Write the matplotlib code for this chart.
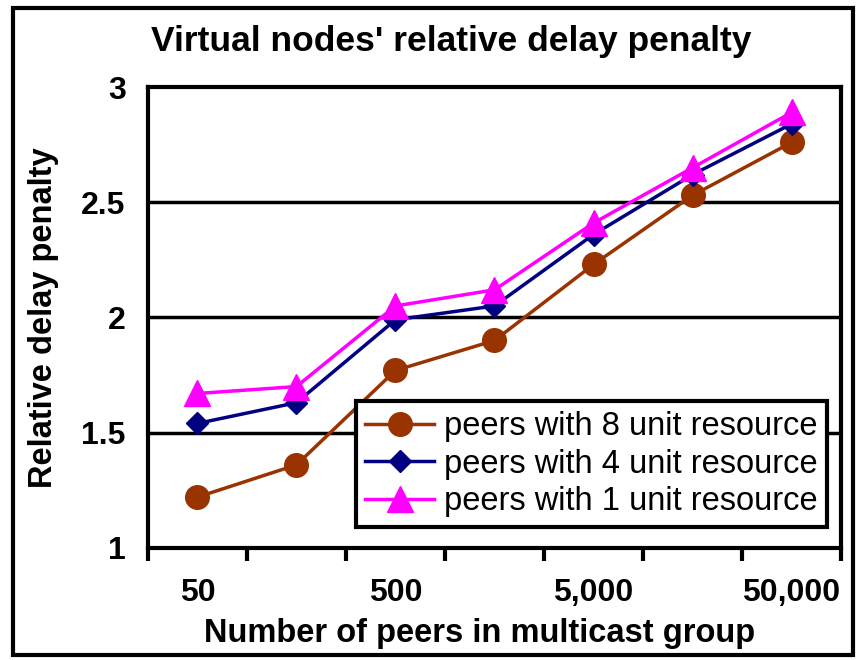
import matplotlib.pyplot as plt
from matplotlib.patches import Rectangle

# Datos
posiciones = [1, 2, 3, 4, 5, 6, 7]
etiquetas_x = ['50', '500', '5,000', '50,000']
posiciones_etiquetas = [1, 3, 5, 7]
recurso_8 = [1.22, 1.36, 1.77, 1.90, 2.23, 2.53, 2.76]
recurso_4 = [1.54, 1.63, 1.99, 2.05, 2.36, 2.62, 2.84]
recurso_1 = [1.67, 1.70, 2.05, 2.12, 2.41, 2.65, 2.89]

plt.rcParams['font.family'] = ['Liberation Sans', 'DejaVu Sans']

fig = plt.figure(figsize=(8.6, 6.6), dpi=100)
ax = fig.add_axes([0.172, 0.170, 0.806, 0.698])

ax.plot(posiciones, recurso_8, color='#993300', lw=2.5, marker='o',
        ms=17, label='peers with 8 unit resource')
ax.plot(posiciones, recurso_4, color='#000080', lw=2.5, marker='D',
        ms=11, label='peers with 4 unit resource')
ax.plot(posiciones, recurso_1, color='#FF00FF', lw=2.5, marker='^',
        ms=19, label='peers with 1 unit resource')

ax.set_xlim(0.5, 7.5)
ax.set_ylim(1, 3)
ax.set_yticks([1, 1.5, 2, 2.5, 3])
ax.set_yticklabels(['1', '1.5', '2', '2.5', '3'], fontsize=23,
                   fontweight='bold')
ax.tick_params(axis='y', length=0, pad=16)

# Marcas del eje x entre categorías, etiquetas en las categorías
ax.set_xticks([0.5 + i for i in range(8)])
ax.set_xticklabels([])
ax.tick_params(axis='x', which='major', length=9, width=3, direction='out')
ax.set_xticks(posiciones_etiquetas, minor=True)
ax.set_xticklabels(etiquetas_x, minor=True, fontsize=23, fontweight='bold')
ax.tick_params(axis='x', which='minor', length=0, pad=22)

for y in [1.5, 2, 2.5]:
    ax.axhline(y, color='black', lw=2.5, zorder=0)

for lado in ['left', 'bottom', 'top', 'right']:
    ax.spines[lado].set_linewidth(3)
    ax.spines[lado].set_color('black')

ax.set_xlabel('Number of peers in multicast group', fontsize=23.5,
              fontweight='bold')
ax.xaxis.set_label_coords(0.479, -0.152)
ax.set_ylabel('Relative delay penalty', fontsize=23.5, fontweight='bold',
              labelpad=16)
fig.text(0.525, 0.937, "Virtual nodes' relative delay penalty",
         fontsize=25.5, fontweight='bold', ha='center', va='center')

leyenda = ax.legend(loc='lower right', bbox_to_anchor=(0.98, 0.045),
                    fontsize=23.5, frameon=True, fancybox=False,
                    framealpha=1, handlelength=2.1, borderpad=0.3,
                    labelspacing=0.2, handletextpad=0.3, borderaxespad=0)
leyenda.get_frame().set_edgecolor('black')
leyenda.get_frame().set_linewidth(3)

# Marco exterior
fig.patches.append(Rectangle((0.015, 0.008), 0.977, 0.98,
                             transform=fig.transFigure, fill=False,
                             edgecolor='black', lw=3))

fig.savefig('out.png', dpi=100)
